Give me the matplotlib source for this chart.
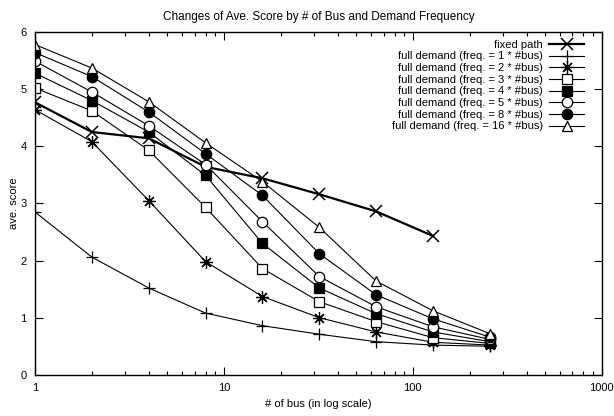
import matplotlib
matplotlib.use('Agg')
import matplotlib.pyplot as plt
from matplotlib.ticker import LogLocator, NullFormatter, FixedLocator

plt.rcParams['font.family'] = ['Liberation Sans', 'DejaVu Sans']
plt.rcParams['font.size'] = 8

# number of buses
buses = [1, 2, 4, 8, 16, 32, 64, 128, 256]
buses_fixed = [1, 2, 4, 8, 16, 32, 64, 128]

fixed_path = [4.77, 4.25, 4.14, 3.64, 3.44, 3.16, 2.86, 2.43]
freq1 = [2.85, 2.06, 1.52, 1.08, 0.86, 0.71, 0.58, 0.52, 0.50]
freq2 = [4.64, 4.08, 3.05, 1.98, 1.37, 1.00, 0.75, 0.57, 0.52]
freq3 = [5.02, 4.62, 3.93, 2.93, 1.86, 1.28, 0.93, 0.65, 0.55]
freq4 = [5.28, 4.80, 4.25, 3.49, 2.30, 1.52, 1.07, 0.75, 0.58]
freq5 = [5.49, 4.95, 4.36, 3.68, 2.68, 1.72, 1.19, 0.84, 0.62]
freq8 = [5.64, 5.22, 4.60, 3.87, 3.14, 2.12, 1.40, 0.98, 0.66]
freq16 = [5.78, 5.37, 4.78, 4.06, 3.38, 2.58, 1.64, 1.12, 0.72]

labels = ['fixed path'] + ['full demand (freq. = %d * #bus)' % f for f in [1, 2, 3, 4, 5, 8, 16]]

fig = plt.figure(figsize=(6.14, 4.16), dpi=100)
ax = fig.add_axes([0.057, 0.099, 0.923, 0.824])

ax.plot(buses_fixed, fixed_path, color='k', lw=1.6, marker='x', ms=8, mew=1.1, label=labels[0])
ax.plot(buses, freq1, color='k', lw=0.8, marker='+', ms=9, mew=0.9, label=labels[1])
ax.plot(buses, freq2, color='k', lw=0.8, marker=(8, 2, 0), ms=9, mew=0.9, label=labels[2])
ax.plot(buses, freq3, color='k', lw=0.8, marker='s', ms=7, mfc='white', mew=0.9, label=labels[3])
ax.plot(buses, freq4, color='k', lw=0.8, marker='s', ms=7, mfc='black', mew=0.9, label=labels[4])
ax.plot(buses, freq5, color='k', lw=0.8, marker='o', ms=7.5, mfc='white', mew=0.9, label=labels[5])
ax.plot(buses, freq8, color='k', lw=0.8, marker='o', ms=7.5, mfc='black', mew=0.9, label=labels[6])
ax.plot(buses, freq16, color='k', lw=0.8, marker='^', ms=7.5, mfc='white', mew=0.9, label=labels[7])

ax.set_xscale('log')
ax.set_xlim(1, 1000)
ax.set_ylim(0, 6)
ax.xaxis.set_major_locator(FixedLocator([1, 10, 100, 1000]))
ax.xaxis.set_major_formatter(plt.FuncFormatter(lambda v, p: '%d' % v))
ax.xaxis.set_minor_locator(LogLocator(base=10, subs=range(2, 10)))
ax.xaxis.set_minor_formatter(NullFormatter())
ax.set_yticks([0, 1, 2, 3, 4, 5, 6])

ax.tick_params(which='both', direction='in', top=True, right=True, width=0.8)
ax.tick_params(which='major', length=6, pad=6)
ax.tick_params(which='minor', length=3)
for s in ax.spines.values():
    s.set_linewidth(1.0)

ax.set_title('Changes of Ave. Score by # of Bus and Demand Frequency', fontsize=8.5, pad=9)
ax.set_xlabel('# of bus (in log scale)', fontsize=8)
ax.set_ylabel('ave. score', fontsize=8, labelpad=1)

ax.legend(loc='upper right', bbox_to_anchor=(0.982, 1.0), frameon=False,
          markerfirst=False, fontsize=8, labelspacing=0.15, handlelength=3.1,
          handletextpad=0.6, borderaxespad=0.3)

fig.savefig('out.png', dpi=100)
